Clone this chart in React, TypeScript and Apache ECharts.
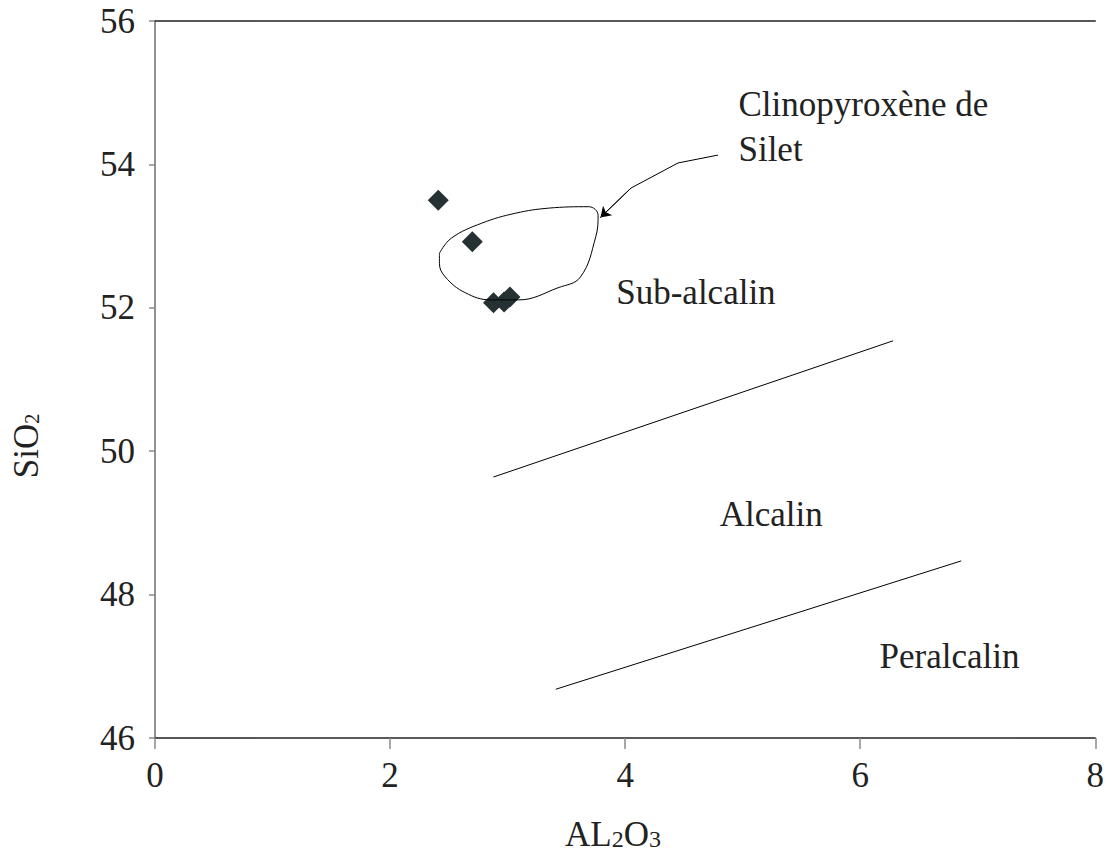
import React, { useEffect, useRef } from "react";
import * as echarts from "echarts";

const xTicks = [0, 2, 4, 6, 8];
const yTicks = [46, 48, 50, 52, 54, 56];

// Clinopyroxene samples (Al2O3, SiO2)
const samples: [number, number][] = [
  [2.41, 53.5],
  [2.7, 52.92],
  [2.88, 52.07],
  [2.97, 52.08],
  [3.02, 52.15],
];

// field of Silet clinopyroxenes (closed outline)
const siletField: [number, number][] = [
  [2.42, 52.76],
  [2.52, 52.97],
  [2.78, 53.18],
  [3.07, 53.32],
  [3.35, 53.39],
  [3.69, 53.41],
  [3.77, 53.29],
  [3.75, 52.99],
  [3.62, 52.43],
  [3.43, 52.28],
  [3.09, 52.11],
  [2.86, 52.11],
  [2.64, 52.21],
  [2.47, 52.43],
  [2.42, 52.62],
  [2.42, 52.76],
];

const arrowPath: [number, number][] = [
  [4.79, 54.13],
  [4.45, 54.02],
  [4.05, 53.67],
  [3.79, 53.26],
];

const boundarySubAlcalin: [number, number][] = [
  [2.88, 49.64],
  [6.28, 51.54],
];
const boundaryAlcalin: [number, number][] = [
  [3.41, 46.68],
  [6.86, 48.47],
];

const fieldLabels: { name: string; value: [number, number] }[] = [
  { name: "Clinopyroxène de\nSilet", value: [4.96, 54.52] },
  { name: "Sub-alcalin", value: [3.92, 52.21] },
  { name: "Alcalin", value: [4.8, 49.12] },
  { name: "Peralcalin", value: [6.16, 47.13] },
];

const FONT = "'Liberation Serif', 'Times New Roman', serif";
const INK = "#222";
const GRAY = "#8a8a8a";
const FS = 35;

export default function App() {
  const ref = useRef<HTMLDivElement>(null);
  useEffect(() => {
    if (!ref.current) return;
    const chart = echarts.init(ref.current, undefined, { renderer: "svg" });
    const xMin = xTicks[0];
    const xMax = xTicks[xTicks.length - 1];
    const yMin = yTicks[0];
    const yMax = yTicks[yTicks.length - 1];
    const lastSeg = arrowPath.slice(arrowPath.length - 2);
    chart.setOption({
      animation: false,
      backgroundColor: "#fff",
      grid: { left: 155, top: 21, width: 944, height: 717 },
      xAxis: [
        {
          type: "value",
          min: xMin,
          max: xMax,
          interval: 2,
          position: "bottom",
          splitLine: { show: false },
          axisLine: { show: true, lineStyle: { color: INK, width: 1.5 } },
          axisTick: { show: true, length: 11, lineStyle: { color: GRAY, width: 1.5 } },
          axisLabel: { margin: 20, fontFamily: FONT, fontSize: FS, color: INK },
        },
        {
          type: "value",
          min: xMin,
          max: xMax,
          position: "top",
          splitLine: { show: false },
          axisLine: { show: true, lineStyle: { color: INK, width: 1.5 } },
          axisTick: { show: false },
          axisLabel: { show: false },
        },
      ],
      yAxis: [
        {
          type: "value",
          min: yMin,
          max: yMax,
          interval: 2,
          position: "left",
          splitLine: { show: false },
          axisLine: { show: true, lineStyle: { color: GRAY, width: 1.5 } },
          axisTick: { show: true, length: 6, lineStyle: { color: GRAY, width: 1.5 } },
          axisLabel: { margin: 20, fontFamily: FONT, fontSize: FS, color: INK },
        },
        {
          type: "value",
          min: yMin,
          max: yMax,
          position: "right",
          splitLine: { show: false },
          axisLine: { show: true, lineStyle: { color: GRAY, width: 1.5 } },
          axisTick: { show: false },
          axisLabel: { show: false },
        },
      ],
      graphic: [
        {
          type: "text",
          x: 613,
          y: 834,
          style: {
            text: "{a|AL}{s|2}{a|O}{s|3}",
            align: "center",
            verticalAlign: "middle",
            fill: INK,
            rich: {
              a: { fontFamily: FONT, fontSize: FS, fill: INK, color: INK },
              s: { fontFamily: FONT, fontSize: 24, fill: INK, color: INK, padding: [9, 0, 0, 0] },
            },
          },
        },
        {
          type: "text",
          x: 26,
          y: 446,
          rotation: Math.PI / 2,
          style: {
            text: "{a|SiO}{s|2}",
            align: "center",
            verticalAlign: "middle",
            fill: INK,
            rich: {
              a: { fontFamily: FONT, fontSize: FS, fill: INK, color: INK },
              s: { fontFamily: FONT, fontSize: 20, fill: INK, color: INK, padding: [12, 0, 0, 0] },
            },
          },
        },
      ],
      series: [
        {
          type: "line",
          data: boundarySubAlcalin,
          symbol: "none",
          lineStyle: { color: "#000", width: 1 },
        },
        {
          type: "line",
          data: boundaryAlcalin,
          symbol: "none",
          lineStyle: { color: "#000", width: 1 },
        },
        {
          type: "line",
          data: siletField,
          symbol: "none",
          smooth: 0.4,
          lineStyle: { color: "#000", width: 1 },
        },
        {
          type: "line",
          data: arrowPath,
          symbol: "none",
          lineStyle: { color: "#000", width: 1 },
        },
        {
          type: "lines",
          coordinateSystem: "cartesian2d",
          symbol: ["none", "arrow"],
          symbolSize: 10,
          lineStyle: { color: "#000", width: 1, opacity: 1 },
          data: [{ coords: lastSeg }],
        },
        {
          type: "scatter",
          data: samples,
          symbol: "diamond",
          symbolSize: 21,
          itemStyle: { color: "#263133", opacity: 1 },
        },
        {
          type: "scatter",
          data: fieldLabels,
          symbolSize: 1,
          itemStyle: { color: "rgba(0,0,0,0)" },
          label: {
            show: true,
            position: "right",
            distance: 0,
            formatter: (p: any) => p.name,
            fontFamily: FONT,
            fontSize: FS,
            lineHeight: 45,
            color: INK,
            opacity: 1,
            align: "left",
          },
        },
      ],
    });
    return () => chart.dispose();
  }, []);
  return (
    <div
      ref={ref}
      style={{ position: "absolute", left: 0, top: 0, width: 1107, height: 852 }}
    />
  );
}
